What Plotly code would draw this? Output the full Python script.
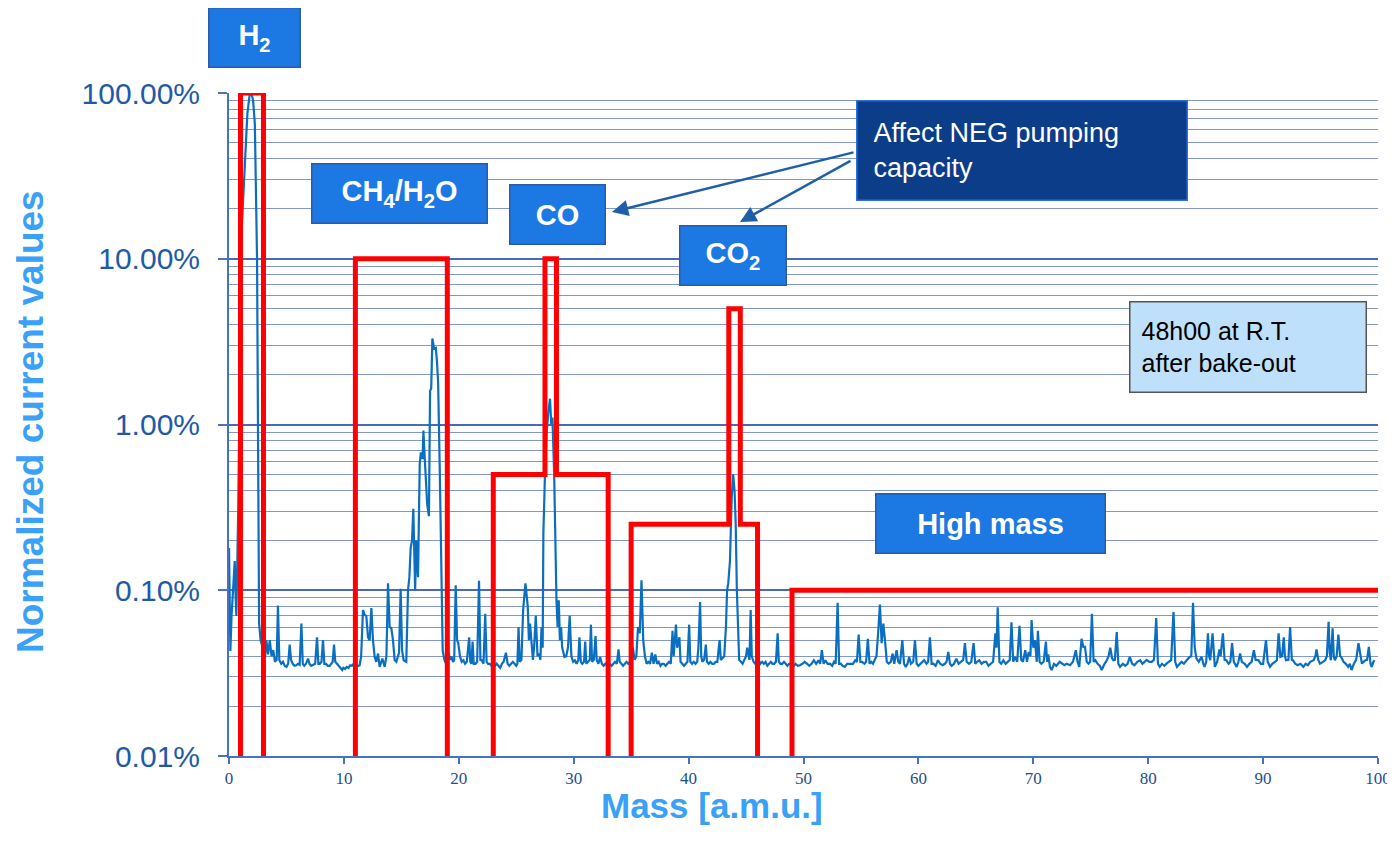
import plotly.graph_objects as go

# ---------------- DATA ----------------
# Mass spectrum (mass [amu], normalized current [%]), per region
spec_h2 = [(0.0,0.18),(0.06,0.09),(0.12,0.043),(0.22,0.07),(0.35,0.095),(0.45,0.14),(0.5,0.15),(0.58,0.09),
           (0.64,0.07),(0.8,0.3),(0.95,3),(1.1,15),(1.22,22),(1.4,40),(1.6,75),(1.8,98),(1.95,100),(2.1,90),
           (2.25,65),(2.44,10),(2.56,0.24),(2.62,0.063),(2.75,0.05),(2.9,0.045),(3.05,0.042),(3.15,0.04)]
spec_low = [(3.25,0.05),(3.4,0.041),(3.55,0.05),(3.7,0.04),(3.85,0.0435),(4.0,0.037),(4.15,0.038),(4.26,0.081),
            (4.38,0.038),(4.55,0.036),(4.7,0.037),(4.85,0.035),(5.0,0.0345),(5.15,0.036),(5.28,0.047),(5.4,0.038),
            (5.55,0.036),(5.7,0.035),(5.86,0.0353),(6.0,0.036),(6.15,0.0355),(6.3,0.063),(6.42,0.036),(6.55,0.035),
            (6.7,0.036),(6.88,0.0387),(7.0,0.036),(7.15,0.035),(7.3,0.0355),(7.5,0.036),(7.66,0.052),(7.78,0.036),
            (7.9,0.036),(8.05,0.037),(8.18,0.05),(8.3,0.036),(8.45,0.036),(8.6,0.035),(8.76,0.035),(8.9,0.036),
            (9.02,0.037),(9.14,0.047),(9.25,0.037),(9.4,0.036),(9.55,0.035),(9.7,0.034),(9.85,0.033),(9.95,0.034),
            (10.1,0.0335),(10.25,0.0345),(10.4,0.034),(10.55,0.0353),(10.7,0.035),(10.85,0.036),(11.0,0.036)]
spec_water = [(11.08,0.0345),(11.37,0.0353),(11.5,0.04),(11.66,0.076),(11.8,0.071),(11.95,0.07),(12.1,0.052),
              (12.24,0.05),(12.39,0.078),(12.53,0.05),(12.68,0.0396),(12.82,0.037),(12.97,0.0415),(13.11,0.0345),
              (13.35,0.0387),(13.55,0.0345),(13.7,0.04),(13.84,0.11),(13.98,0.06),(14.13,0.059),(14.27,0.05),
              (14.42,0.0378),(14.56,0.037),(14.8,0.042),(14.94,0.102),(15.06,0.0435),(15.2,0.0378),(15.43,0.037),
              (15.58,0.1),(15.7,0.12),(15.81,0.18),(15.93,0.2),(16.04,0.31),(16.12,0.16),(16.2,0.1),(16.3,0.2),
              (16.45,0.12),(16.6,0.58),(16.7,0.68),(16.85,0.62),(16.92,0.92),(17.05,0.6),(17.15,0.45),(17.25,0.33),
              (17.4,0.28),(17.5,1.6),(17.6,1.65),(17.7,3.3),(17.85,2.87),(18.0,2.9),(18.1,2.4),(18.2,1.8),
              (18.35,0.5),(18.5,0.09),(18.6,0.043),(18.75,0.038),(18.9,0.036)]
spec_mid = [(19.1,0.042),(19.25,0.038),(19.35,0.04),(19.5,0.037),(19.6,0.038),(19.73,0.107),(19.85,0.05),
            (19.95,0.048),(20.1,0.04),(20.25,0.037),(20.4,0.0378),(20.55,0.036),(20.7,0.037),(20.9,0.052),
            (21.0,0.037),(21.1,0.036),(21.2,0.049),(21.3,0.036),(21.45,0.036),(21.6,0.037),(21.76,0.114),
            (21.88,0.038),(22.0,0.0378),(22.15,0.036),(22.3,0.072),(22.42,0.037),(22.55,0.036),(22.7,0.036),
            (22.85,0.035),(23.0,0.035)]
spec_co = [(23.15,0.035),(23.3,0.036),(23.45,0.035),(23.6,0.034),(23.75,0.036),(23.9,0.037),(24.1,0.042),
           (24.25,0.036),(24.4,0.035),(24.55,0.036),(24.7,0.037),(24.85,0.036),(25.0,0.035),(25.1,0.036),
           (25.2,0.06),(25.3,0.037),(25.45,0.038),(25.6,0.076),(25.8,0.11),(26.0,0.08),(26.1,0.05),(26.2,0.063),
           (26.35,0.042),(26.45,0.038),(26.55,0.045),(26.7,0.07),(26.85,0.04),(27.0,0.0415),(27.1,0.038),
           (27.2,0.06),(27.3,0.045),(27.36,0.22),(27.5,0.5),(27.65,0.9),(27.8,1.2),(27.94,1.43),(28.05,1.0),
           (28.15,1.1),(28.3,0.5),(28.4,0.2),(28.5,0.087),(28.6,0.06),(28.7,0.087),(28.8,0.05),(28.9,0.06),
           (29.0,0.045),(29.2,0.0396),(29.35,0.04),(29.5,0.045),(29.65,0.07),(29.8,0.04),(29.95,0.037),
           (30.1,0.0378),(30.25,0.036),(30.4,0.038),(30.5,0.052),(30.62,0.037),(30.75,0.036),(30.9,0.037),
           (31.0,0.049),(31.1,0.036),(31.25,0.037),(31.4,0.038),(31.5,0.062),(31.6,0.037),(31.75,0.038),
           (31.9,0.053),(32.0,0.038),(32.15,0.036),(32.3,0.0396),(32.45,0.036),(32.6,0.035),(32.75,0.036),
           (32.9,0.035),(33.0,0.036)]
spec_co2 = [(33.15,0.036),(33.3,0.035),(33.45,0.036),(33.6,0.037),(33.75,0.036),(33.9,0.044),(34.0,0.037),
            (34.15,0.036),(34.3,0.035),(34.45,0.036),(34.6,0.037),(34.75,0.036),(34.9,0.037),(35.05,0.038),
            (35.15,0.045),(35.3,0.038),(35.45,0.04),(35.6,0.06),(35.75,0.055),(35.9,0.115),(36.05,0.05),
            (36.2,0.04),(36.35,0.036),(36.5,0.037),(36.65,0.036),(36.8,0.042),(36.95,0.036),(37.1,0.041),
            (37.25,0.036),(37.4,0.037),(37.55,0.035),(37.7,0.036),(37.85,0.036),(38.0,0.035),(38.15,0.036),
            (38.3,0.037),(38.45,0.036),(38.6,0.057),(38.7,0.04),(38.9,0.062),(39.0,0.045),(39.2,0.052),
            (39.3,0.037),(39.45,0.036),(39.6,0.035),(39.75,0.036),(39.9,0.037),(40.05,0.062),(40.15,0.037),
            (40.3,0.036),(40.45,0.037),(40.6,0.036),(40.75,0.037),(40.85,0.045),(41.0,0.085),(41.1,0.04),
            (41.2,0.037),(41.35,0.038),(41.5,0.047),(41.6,0.037),(41.75,0.036),(41.9,0.037),(42.05,0.036),
            (42.2,0.036),(42.35,0.037),(42.5,0.037),(42.7,0.05),(42.8,0.038),(42.95,0.039),(43.1,0.04),
            (43.25,0.06),(43.35,0.1),(43.45,0.11),(43.6,0.15),(43.75,0.36),(43.88,0.5),(44.0,0.4),(44.1,0.25),
            (44.2,0.1),(44.3,0.05),(44.4,0.038),(44.55,0.037),(44.7,0.036),(44.85,0.038),(45.0,0.04),
            (45.1,0.045),(45.2,0.04),(45.3,0.038),(45.4,0.076),(45.5,0.04),(45.65,0.037),(45.8,0.036),
            (45.95,0.037),(46.1,0.038),(46.25,0.036),(46.4,0.037),(46.55,0.036),(46.7,0.037),(46.85,0.035),
            (47.0,0.036),(47.15,0.037),(47.3,0.036),(47.45,0.036),(47.6,0.037),(47.75,0.055),(47.85,0.037),
            (48.0,0.036),(48.15,0.036),(48.3,0.037),(48.45,0.036),(48.6,0.035),(48.75,0.036),(48.9,0.036)]
spec_high = [(49.0,0.036),(49.1,0.0345),(49.3,0.036),(49.5,0.035),(49.7,0.0353),(49.9,0.036),(50.1,0.037),
             (50.3,0.0361),(50.5,0.035),(50.7,0.036),(50.9,0.0378),(51.1,0.036),(51.3,0.0378),(51.45,0.036),
             (51.6,0.0435),(51.75,0.036),(51.9,0.0378),(52.1,0.036),(52.3,0.0361),(52.5,0.035),(52.65,0.037),
             (52.8,0.036),(52.97,0.084),(53.1,0.036),(53.25,0.0361),(53.4,0.035),(53.6,0.0345),(53.8,0.036),
             (54.05,0.0361),(54.3,0.036),(54.5,0.0378),(54.65,0.037),(54.8,0.054),(54.95,0.037),(55.1,0.037),
             (55.3,0.036),(55.45,0.037),(55.6,0.051),(55.75,0.036),(55.9,0.037),(56.05,0.036),(56.2,0.0378),
             (56.35,0.04),(56.5,0.056),(56.65,0.082),(56.8,0.048),(56.95,0.063),(57.1,0.049),(57.25,0.037),
             (57.4,0.0361),(57.6,0.037),(57.75,0.0415),(57.9,0.036),(58.1,0.0435),(58.25,0.037),(58.4,0.036),
             (58.6,0.05),(58.75,0.036),(58.9,0.0345),(59.05,0.036),(59.2,0.0396),(59.35,0.036),(59.55,0.037),
             (59.7,0.05),(59.85,0.036),(60.0,0.035),(60.2,0.036),(60.35,0.037),(60.5,0.0378),(60.7,0.036),
             (60.85,0.037),(61.0,0.052),(61.15,0.036),(61.3,0.0361),(61.5,0.035),(61.7,0.0378),(61.9,0.036),
             (62.1,0.0353),(62.3,0.036),(62.45,0.037),(62.6,0.0425),(62.75,0.036),(62.9,0.035),(63.1,0.036),
             (63.3,0.0387),(63.5,0.036),(63.7,0.037),(63.9,0.038),(64.05,0.048),(64.2,0.037),(64.4,0.036),
             (64.6,0.037),(64.8,0.048),(64.95,0.036),(65.1,0.037),(65.3,0.0378),(65.5,0.036),(65.7,0.037),
             (65.9,0.037),(66.1,0.035),(66.3,0.036),(66.5,0.037),(66.7,0.055),(66.8,0.045),(66.9,0.079),
             (67.05,0.037),(67.2,0.036),(67.4,0.0378),(67.6,0.036),(67.8,0.037),(67.95,0.038),(68.1,0.064),
             (68.25,0.037),(68.4,0.0396),(68.6,0.037),(68.8,0.061),(68.95,0.038),(69.1,0.037),(69.3,0.0435),
             (69.45,0.037),(69.6,0.0425),(69.75,0.04),(69.85,0.066),(70.0,0.045),(70.15,0.05),(70.3,0.037),
             (70.4,0.057),(70.55,0.037),(70.7,0.036),(70.9,0.037),(71.1,0.049),(71.2,0.037),(71.3,0.041),
             (71.45,0.0345),(71.6,0.033),(71.8,0.036),(72.0,0.035),(72.3,0.037),(72.5,0.036),(72.7,0.0353),
             (72.9,0.036),(73.2,0.0353),(73.45,0.037),(73.7,0.0435),(73.85,0.037),(74.0,0.0345),(74.2,0.051),
             (74.35,0.0456),(74.5,0.0456),(74.65,0.037),(74.8,0.0361),(74.95,0.037),(75.1,0.072),(75.25,0.037),
             (75.4,0.0378),(75.6,0.036),(75.8,0.035),(75.95,0.033),(76.2,0.036),(76.4,0.0378),(76.55,0.04),
             (76.7,0.045),(76.85,0.039),(76.97,0.0378),(77.1,0.038),(77.26,0.056),(77.4,0.036),(77.55,0.0345),
             (77.8,0.036),(78.0,0.035),(78.2,0.036),(78.4,0.0396),(78.6,0.036),(78.8,0.0353),(79.05,0.037),
             (79.3,0.0378),(79.5,0.036),(79.7,0.037),(79.87,0.038),(80.1,0.037),(80.3,0.037),(80.5,0.038),
             (80.7,0.068),(80.85,0.036),(81.0,0.0345),(81.2,0.036),(81.4,0.035),(81.6,0.0361),(81.8,0.037),
             (82.0,0.038),(82.2,0.074),(82.35,0.037),(82.5,0.0345),(82.7,0.036),(82.9,0.037),(83.1,0.036),
             (83.35,0.0378),(83.6,0.0396),(83.75,0.04),(83.9,0.084),(84.05,0.045),(84.2,0.0387),(84.4,0.037),
             (84.65,0.0396),(84.8,0.036),(84.9,0.0345),(85.05,0.037),(85.2,0.055),(85.3,0.04),(85.4,0.0378),
             (85.6,0.055),(85.7,0.042),(85.8,0.0345),(86.0,0.037),(86.2,0.044),(86.3,0.04),(86.5,0.055),
             (86.65,0.038),(86.8,0.0378),(87.0,0.036),(87.15,0.037),(87.3,0.048),(87.45,0.037),(87.7,0.0345),
             (87.85,0.037),(88.0,0.0415),(88.15,0.037),(88.4,0.036),(88.6,0.0345),(88.8,0.036),(89.0,0.037),
             (89.2,0.0435),(89.35,0.038),(89.6,0.0378),(89.8,0.036),(90.0,0.036),(90.25,0.05),(90.4,0.037),
             (90.6,0.0345),(90.8,0.036),(91.0,0.037),(91.2,0.0378),(91.35,0.055),(91.5,0.0396),(91.65,0.04),
             (91.8,0.052),(91.9,0.04),(92.0,0.0378),(92.2,0.038),(92.35,0.06),(92.5,0.038),(92.6,0.0378),
             (92.8,0.036),(93.0,0.0353),(93.25,0.036),(93.5,0.0345),(93.7,0.036),(93.9,0.0353),(94.1,0.037),
             (94.4,0.0378),(94.55,0.04),(94.65,0.044),(94.8,0.038),(94.95,0.0361),(95.2,0.037),(95.4,0.0378),
             (95.55,0.04),(95.7,0.0645),(95.8,0.042),(95.9,0.0378),(96.05,0.059),(96.15,0.04),(96.25,0.0378),
             (96.4,0.04),(96.55,0.054),(96.7,0.04),(96.8,0.0396),(97.0,0.037),(97.2,0.036),(97.4,0.0345),
             (97.55,0.036),(97.7,0.033),(97.9,0.036),(98.1,0.038),(98.3,0.048),(98.45,0.04),(98.6,0.0361),
             (98.75,0.037),(98.9,0.0378),(99.05,0.038),(99.2,0.0456),(99.35,0.036),(99.45,0.0345),(99.6,0.037),
             (99.7,0.0378)]

# Acceptance limits (red step envelope); None separates the mass windows
limit_mass = [1, 1, 3, 3, None,
              11, 11, 19, 19, None,
              23, 23, 27.5, 27.5, 28.5, 28.5, 33, 33, None,
              35, 35, 43.5, 43.5, 44.5, 44.5, 46, 46, None,
              49, 49, 100]
limit_level = [0.01, 100, 100, 0.01, None,
               0.01, 10, 10, 0.01, None,
               0.01, 0.5, 0.5, 10, 10, 0.5, 0.5, 0.01, None,
               0.01, 0.25, 0.25, 5, 5, 0.25, 0.25, 0.01, None,
               0.01, 0.1, 0.1]

x_ticks = [0, 10, 20, 30, 40, 50, 60, 70, 80, 90, 100]
y_ticks = [0.01, 0.1, 1, 10, 100]
y_tick_text = ["0.01%", "0.10%", "1.00%", "10.00%", "100.00%"]

spectrum = spec_h2 + spec_low + spec_water + spec_mid + spec_co + spec_co2 + spec_high
mass = [p[0] for p in spectrum]
current = [p[1] for p in spectrum]

# ---------------- FIGURE ----------------
SANS = "Liberation Sans, Arial, sans-serif"
fig = go.Figure()
fig.add_trace(go.Scatter(x=mass, y=current, mode="lines",
                         line=dict(color="#0b6fc1", width=2.2), showlegend=False))
fig.add_trace(go.Scatter(x=limit_mass, y=limit_level, mode="lines", connectgaps=False,
                         line=dict(color="#ff0000", width=5), showlegend=False))

axis_blue = "#4472c4"
fig.update_xaxes(range=[0, 100], tickmode="array", tickvals=x_ticks,
                 ticktext=[str(v) for v in x_ticks], automargin=False,
                 tickfont=dict(family="Liberation Serif, Times New Roman, serif", size=17, color="#1f4e8c"),
                 showline=True, linecolor=axis_blue, linewidth=2,
                 ticks="outside", ticklen=6, tickcolor=axis_blue, tickwidth=1.5,
                 showgrid=False, zeroline=False)
fig.update_yaxes(type="log", range=[-2, 2], tickmode="array", tickvals=y_ticks, ticktext=y_tick_text,
                 automargin=False,
                 tickfont=dict(family=SANS, size=30, color="#1f5aa6"),
                 showline=True, linecolor=axis_blue, linewidth=2,
                 ticks="outside", ticklen=9, tickcolor="#5070c0", tickwidth=1.5,
                 ticklabelstandoff=12,
                 showgrid=True, gridcolor="#4a69bd", gridwidth=1.6,
                 minor=dict(dtick="D1", showgrid=True, gridcolor="#8497cc", gridwidth=1.4, ticks=""),
                 zeroline=False)

# page body has an 8px margin: figure is shifted by (8, 8) in the screenshot
OFF = 8
PW, PH = 1149, 663
L, T = 229, 93          # plot-area origin in screenshot pixels
FW, FH = 1395 - OFF, 845 - OFF


def px(xp):
    return (xp - L) / PW


def py(yp):
    return (T + PH - yp) / PH


def label(cx, cy, w, h, text, bg, border, color="white", size=30, bold=True, align="center", pad=0):
    fig.add_annotation(xref="paper", yref="paper", x=px(cx), y=py(cy), xanchor="center", yanchor="middle",
                       text=f"<b>{text}</b>" if bold else text, showarrow=False,
                       width=w - 2 * pad, height=h - 2 * pad, align=align, valign="middle",
                       bgcolor=bg, bordercolor=border, borderwidth=1.5, borderpad=pad,
                       font=dict(family=SANS, size=size, color=color))


box_blue = "#1c78e2"
box_edge = "#2a5aa8"
label(254, 37, 90, 58, "H<sub>2</sub>", box_blue, box_edge, size=29)
label(399, 193, 174, 58, "CH<sub>4</sub>/H<sub>2</sub>O", box_blue, box_edge, size=29)
label(557, 214, 94, 58, "CO", box_blue, box_edge, size=29)
label(733, 255, 105, 58, "CO<sub>2</sub>", box_blue, box_edge, size=29)
label(990, 523, 228, 58, "High mass", box_blue, box_edge, size=29)
label(1022, 150, 329, 98, "Affect NEG pumping<br>capacity", "#0c3d88", "#2f6fe0",
      size=27, bold=False, align="left", pad=16)
label(1248, 347, 235, 89, "48h00 at R.T.<br>after bake-out", "#bfe0fb", "#555555",
      color="black", size=25, bold=False, align="left", pad=11)

# arrows from the NEG box to the CO and CO2 labels
for hx, hy, tx, ty in [(612, 212, 855, 152), (740, 222, 852, 160)]:
    fig.add_annotation(xref="paper", yref="paper", x=px(hx), y=py(hy), ax=tx - hx, ay=ty - hy,
                       axref="pixel", ayref="pixel", text="", showarrow=True,
                       arrowhead=2, arrowsize=1.3, arrowwidth=2.5, arrowcolor="#1f5fa8")

# axis titles
fig.add_annotation(xref="paper", yref="paper", x=px(712), y=py(805), xanchor="center", yanchor="middle",
                   text="<b>Mass [a.m.u.]</b>", showarrow=False,
                   font=dict(family=SANS, size=35, color="#3aa0f8"))
fig.add_annotation(xref="paper", yref="paper", x=px(30), y=py(422), xanchor="center", yanchor="middle",
                   text="<b>Normalized current values</b>", showarrow=False, textangle=-90,
                   font=dict(family=SANS, size=37, color="#3aa0f8"))

fig.update_layout(width=FW, height=FH, autosize=False,
                  margin=dict(l=L - OFF, r=FW - (L - OFF) - PW, t=T - OFF, b=FH - (T - OFF) - PH),
                  paper_bgcolor="white", plot_bgcolor="white", showlegend=False)

fig.write_html("out.html")
